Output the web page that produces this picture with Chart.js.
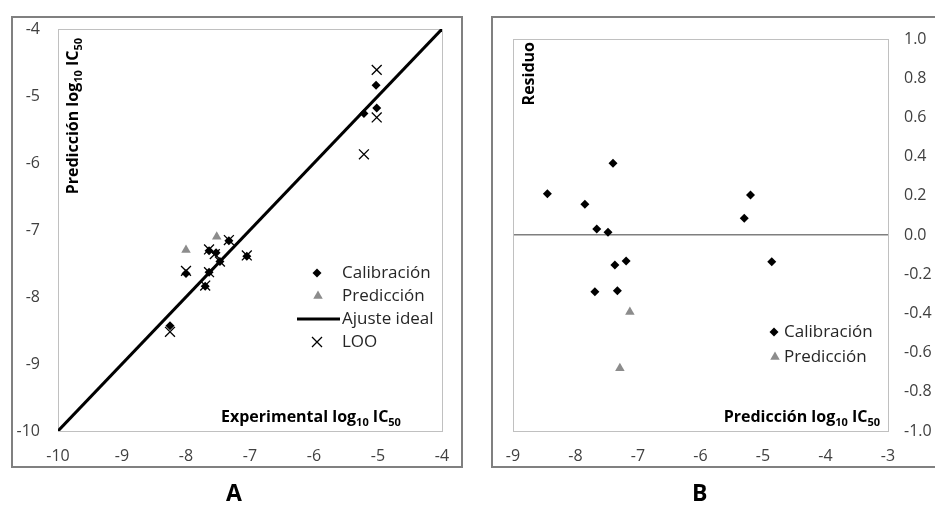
<!DOCTYPE html>
<html>
<head>
<meta charset="utf-8">
<script src="https://cdn.jsdelivr.net/npm/chart.js@4.4.0/dist/chart.umd.min.js"></script>
<style>
  body { margin: 0; background: #fff; }
  #wrap { position: relative; width: 935px; height: 523px; overflow: hidden; font-family: "Open Sans", sans-serif; }
  canvas { position: absolute; top: 0; }
  .tag { position: absolute; font-weight: bold; font-size: 23px; color: #000; }
</style>
</head>
<body>
<div id="wrap">
  <canvas id="chartA" width="470" height="523" style="left:0"></canvas>
  <canvas id="chartB" width="465" height="523" style="left:470px"></canvas>
  <div class="tag" style="left:226px;top:476px">A</div>
  <div class="tag" style="left:692px;top:476px">B</div>
</div>
<script>
// Panel A: experimental vs predicted log10 IC50
const calibExpA  = [-8.25, -8.00, -7.70, -7.64, -7.64, -7.53, -7.47, -7.33, -7.05, -5.22, -5.03, -5.02];
const calibPredA = [-8.43, -7.65, -7.84, -7.63, -7.31, -7.34, -7.47, -7.16, -7.39, -5.26, -4.84, -5.18];
const predExpA   = [-8.00, -7.52];
const predPredA  = [-7.30, -7.10];
const looExpA    = [-8.25, -8.00, -7.70, -7.64, -7.64, -7.55, -7.47, -7.33, -7.05, -5.22, -5.02, -5.02];
const looPredA   = [-8.52, -7.61, -7.83, -7.63, -7.29, -7.36, -7.47, -7.15, -7.38, -5.87, -4.61, -5.32];
const idealLine  = [-10, -4];

// Panel B: residuals vs predicted
const calibPredB = [-8.45, -7.85, -7.66, -7.48, -7.40, -7.37, -7.19, -7.69, -7.33, -5.30, -5.20, -4.86];
const calibResB  = [0.21, 0.157, 0.03, 0.014, 0.366, -0.153, -0.133, -0.29, -0.284, 0.085, 0.204, -0.136];
const predPredB  = [-7.13, -7.29];
const predResB   = [-0.393, -0.68];

const FONT = '"Open Sans", sans-serif';
const TICK_COLOR = '#404040';
const GREY_TRI = '#8c8c8c';

const pts = (xs, ys) => xs.map((x, i) => ({ x: x, y: ys[i] }));

// text with subscripts, drawn left to right from (x, y) on the baseline
function richWidth(ctx, parts, size) {
  let w = 0;
  parts.forEach(p => {
    ctx.font = 'bold ' + (p[1] ? Math.round(size * 0.68) : size) + 'px ' + FONT;
    w += ctx.measureText(p[0]).width;
  });
  return w;
}
function drawRich(ctx, parts, x, y, size) {
  ctx.fillStyle = '#000';
  ctx.textAlign = 'left';
  ctx.textBaseline = 'alphabetic';
  parts.forEach(p => {
    ctx.font = 'bold ' + (p[1] ? Math.round(size * 0.68) : size) + 'px ' + FONT;
    ctx.fillText(p[0], x, y + (p[1] ? size * 0.25 : 0));
    x += ctx.measureText(p[0]).width;
  });
}

function diamond(ctx, x, y, r) {
  ctx.beginPath();
  ctx.moveTo(x, y - r); ctx.lineTo(x + r, y); ctx.lineTo(x, y + r); ctx.lineTo(x - r, y);
  ctx.closePath(); ctx.fillStyle = '#000'; ctx.fill();
}
function triangle(ctx, x, y, r) {
  ctx.beginPath();
  ctx.moveTo(x, y - r); ctx.lineTo(x + r * 0.866, y + r / 2); ctx.lineTo(x - r * 0.866, y + r / 2);
  ctx.closePath(); ctx.fillStyle = GREY_TRI; ctx.fill();
}
function cross(ctx, x, y, d) {
  ctx.beginPath();
  ctx.moveTo(x - d, y - d); ctx.lineTo(x + d, y + d);
  ctx.moveTo(x + d, y - d); ctx.lineTo(x - d, y + d);
  ctx.strokeStyle = '#000'; ctx.lineWidth = 1.3; ctx.stroke();
}

// frames, axis titles and legend of each panel
function decoPlugin(cfg) {
  return {
    id: 'deco',
    beforeDatasetsDraw(chart) {
      const ctx = chart.ctx, a = chart.chartArea;
      ctx.save();
      ctx.strokeStyle = '#808080'; ctx.lineWidth = 2;
      ctx.strokeRect(cfg.frame[0], cfg.frame[1], cfg.frame[2], cfg.frame[3]);
      ctx.strokeStyle = '#c0c0c0'; ctx.lineWidth = 1;
      ctx.strokeRect(a.left + 0.5, a.top + 0.5, a.right - a.left, a.bottom - a.top);
      ctx.restore();
    },
    afterDraw(chart) {
      const ctx = chart.ctx;
      ctx.save();
      // x title
      const xw = richWidth(ctx, cfg.xTitle, 16);
      const xs = cfg.xTitleRight != null ? cfg.xTitleRight - xw : cfg.xTitleLeft;
      drawRich(ctx, cfg.xTitle, xs, cfg.xTitleY, 16);
      // y title, rotated
      const yw = richWidth(ctx, cfg.yTitle, 16);
      ctx.save();
      ctx.translate(cfg.yTitleX, cfg.yTitleTop + yw);
      ctx.rotate(-Math.PI / 2);
      drawRich(ctx, cfg.yTitle, 0, 0, 16);
      ctx.restore();
      // legend
      cfg.legend.forEach(it => {
        if (it.kind === 'diamond') diamond(ctx, it.mx, it.y, 4.5);
        if (it.kind === 'triangle') triangle(ctx, it.mx, it.y, 5.5);
        if (it.kind === 'cross') cross(ctx, it.mx, it.y, 5);
        if (it.kind === 'line') {
          ctx.beginPath(); ctx.moveTo(it.mx - 21, it.y); ctx.lineTo(it.mx + 22, it.y);
          ctx.strokeStyle = '#000'; ctx.lineWidth = 3; ctx.stroke();
        }
        ctx.fillStyle = '#262626'; ctx.textAlign = 'left'; ctx.textBaseline = 'middle';
        ctx.font = cfg.legendSize + 'px ' + FONT;
        ctx.fillText(it.text, it.tx, it.y);
      });
      ctx.restore();
    }
  };
}

function fixWidth(w) { return s => { s.width = w; }; }
function fixHeight(h) { return s => { s.height = h; }; }

const tickFont = { family: FONT, size: 16 };

new Chart(document.getElementById('chartA'), {
  type: 'scatter',
  data: {
    datasets: [
      { label: 'Ajuste ideal', data: pts(idealLine, idealLine), showLine: true, borderColor: '#000',
        borderWidth: 3, pointRadius: 0, order: 4 },
      { label: 'LOO', data: pts(looExpA, looPredA), pointStyle: 'crossRot', pointRadius: 7,
        borderColor: '#000', borderWidth: 1.3, order: 3 },
      { label: 'Calibración', data: pts(calibExpA, calibPredA), pointStyle: 'rectRot', pointRadius: 4.5,
        backgroundColor: '#000', borderColor: '#000', borderWidth: 0, order: 2 },
      { label: 'Predicción', data: pts(predExpA, predPredA), pointStyle: 'triangle', pointRadius: 5.5,
        backgroundColor: GREY_TRI, borderColor: GREY_TRI, borderWidth: 0, order: 1 }
    ]
  },
  options: {
    responsive: false,
    animation: false,
    layout: { padding: { left: 12, top: 29, right: 28, bottom: 0 } },
    plugins: { legend: { display: false }, tooltip: { enabled: false } },
    scales: {
      x: {
        min: -10, max: -4,
        ticks: { stepSize: 1, color: TICK_COLOR, font: tickFont, padding: 8, maxRotation: 0 },
        grid: { display: false }, border: { display: false },
        afterFit: fixHeight(92)
      },
      y: {
        min: -10, max: -4,
        ticks: { stepSize: 1, color: TICK_COLOR, font: tickFont, padding: 10 },
        grid: { display: false }, border: { display: false },
        afterFit: fixWidth(46)
      }
    }
  },
  plugins: [decoPlugin({
    frame: [12, 17, 450, 450],
    xTitle: [['Experimental log', 0], ['10', 1], [' IC', 0], ['50', 1]],
    xTitleLeft: 221, xTitleY: 422,
    yTitle: [['Predicción log', 0], ['10', 1], [' IC', 0], ['50', 1]],
    yTitleX: 78, yTitleTop: 38,
    legendSize: 17,
    legend: [
      { kind: 'diamond', mx: 317, tx: 342, y: 273, text: 'Calibración' },
      { kind: 'triangle', mx: 318, tx: 342, y: 296, text: 'Predicción' },
      { kind: 'line', mx: 318, tx: 342, y: 319, text: 'Ajuste ideal' },
      { kind: 'cross', mx: 317, tx: 342, y: 342, text: 'LOO' }
    ]
  })]
});

new Chart(document.getElementById('chartB'), {
  type: 'scatter',
  data: {
    datasets: [
      { label: 'Calibración', data: pts(calibPredB, calibResB), pointStyle: 'rectRot', pointRadius: 4.5,
        backgroundColor: '#000', borderColor: '#000', borderWidth: 0 },
      { label: 'Predicción', data: pts(predPredB, predResB), pointStyle: 'triangle', pointRadius: 5.5,
        backgroundColor: GREY_TRI, borderColor: GREY_TRI, borderWidth: 0 }
    ]
  },
  options: {
    responsive: false,
    animation: false,
    layout: { padding: { left: 43, top: 39, right: 0, bottom: 0 } },
    plugins: { legend: { display: false }, tooltip: { enabled: false } },
    scales: {
      x: {
        min: -9, max: -3,
        ticks: { stepSize: 1, color: TICK_COLOR, font: tickFont, padding: 8, maxRotation: 0 },
        grid: { display: false }, border: { display: false },
        afterFit: fixHeight(92)
      },
      y: {
        position: 'right',
        min: -1, max: 1,
        ticks: { stepSize: 0.2, color: TICK_COLOR, font: tickFont, padding: 16,
                 callback: v => v.toFixed(1) },
        grid: {
          drawTicks: false,
          color: c => (Math.abs(c.tick.value) < 1e-9 ? '#7f7f7f' : 'rgba(0,0,0,0)'),
          lineWidth: c => (Math.abs(c.tick.value) < 1e-9 ? 1.5 : 0)
        },
        border: { display: false },
        afterFit: fixWidth(47)
      }
    }
  },
  plugins: [decoPlugin({
    frame: [22, 17, 460, 450],
    xTitle: [['Predicción log', 0], ['10', 1], [' IC', 0], ['50', 1]],
    xTitleRight: 410, xTitleY: 422,
    yTitle: [['Residuo', 0]],
    yTitleX: 64, yTitleTop: 42,
    legendSize: 17,
    legend: [
      { kind: 'diamond', mx: 304, tx: 314, y: 332, text: 'Calibración' },
      { kind: 'triangle', mx: 305, tx: 314, y: 357, text: 'Predicción' }
    ]
  })]
});
</script>
</body>
</html>
